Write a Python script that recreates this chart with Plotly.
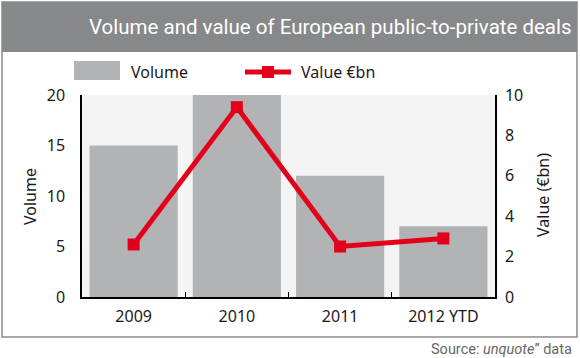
import plotly.graph_objects as go

categories = ["2009", "2010", "2011", "2012 YTD"]
volume = [15, 20, 12, 7]
value_bn = [2.6, 9.4, 2.5, 2.9]

W, H = 580, 358
L, R, T, B = 82, 85, 95, 61
PW, PH = W - L - R, H - T - B

def px(x):
    return (x - L) / PW

def py(y):
    return (H - B - y) / PH

fig = go.Figure()
fig.add_trace(go.Bar(x=categories, y=volume, name="Volume", marker_color="#b2b3b5",
                     marker_line_width=0, yaxis="y", showlegend=False))
fig.add_trace(go.Scatter(x=categories, y=value_bn, name="Value €bn", mode="lines+markers",
                         line=dict(color="#e2001a", width=5),
                         marker=dict(symbol="square", size=12, color="#e2001a"),
                         yaxis="y2", showlegend=False))

tickfont = dict(family="Noto Sans, Open Sans, sans-serif", size=16, color="#1a1a1a")
condensed = "Roboto, sans-serif"

fig.update_layout(
    width=W, height=H,
    margin=dict(l=L, r=R, t=T, b=B),
    paper_bgcolor="white",
    plot_bgcolor="#f4f4f4",
    bargap=0.146,
    xaxis=dict(type="category", showline=True, linecolor="black", linewidth=1.5,
               ticks="inside", tickson="boundaries", ticklen=5, tickcolor="black",
               tickfont=tickfont, showgrid=False, ticklabelstandoff=4),
    yaxis=dict(range=[0, 20], tickvals=[0, 5, 10, 15, 20], showline=True, linecolor="black",
               linewidth=1.5, showgrid=False, zeroline=False, ticks="", tickfont=tickfont,
               ticklabelstandoff=12),
    yaxis2=dict(range=[0, 10], tickvals=[0, 2, 4, 6, 8, 10], overlaying="y", side="right",
                showline=True, linecolor="black", linewidth=1.5, showgrid=False,
                zeroline=False, ticks="", tickfont=tickfont, ticklabelstandoff=5),
    showlegend=False,
)

shapes = [
    dict(type="rect", xref="paper", yref="paper", x0=px(2), x1=px(577), y0=py(337), y1=py(2),
         line=dict(color="#8c8c8c", width=1.5), fillcolor="rgba(0,0,0,0)", layer="below"),
    dict(type="rect", xref="paper", yref="paper", x0=px(2), x1=px(577), y0=py(52), y1=py(2),
         line=dict(width=0), fillcolor="#87888a", layer="below"),
    dict(type="rect", xref="paper", yref="paper", x0=px(74), x1=px(120), y0=py(80), y1=py(61),
         line=dict(width=0), fillcolor="#b2b3b5"),
    dict(type="line", xref="paper", yref="paper", x0=px(245), x1=px(291), y0=py(72), y1=py(72),
         line=dict(color="#e2001a", width=5)),
    dict(type="rect", xref="paper", yref="paper", x0=px(262), x1=px(274), y0=py(78), y1=py(66),
         line=dict(width=0), fillcolor="#e2001a"),
]

annotations = [
    dict(text="Volume and value of European public-to-private deals", xref="paper", yref="paper",
         x=px(574), y=py(27), xanchor="right", yanchor="middle", showarrow=False,
         font=dict(family=condensed, size=20.5, color="white")),
    dict(text="Volume", xref="paper", yref="paper", x=px(129), y=py(72), xanchor="left",
         yanchor="middle", showarrow=False, font=tickfont),
    dict(text="Value €bn", xref="paper", yref="paper", x=px(299), y=py(72), xanchor="left",
         yanchor="middle", showarrow=False, font=tickfont),
    dict(text="Volume", xref="paper", yref="paper", x=px(30), y=py(196), xanchor="center",
         yanchor="middle", textangle=-90, showarrow=False, font=tickfont),
    dict(text="Value (€bn)", xref="paper", yref="paper", x=px(543), y=py(195), xanchor="center",
         yanchor="middle", textangle=-90, showarrow=False, font=tickfont),
    dict(text="Source: <i>unquote</i>” data", xref="paper", yref="paper", x=px(574), y=py(349),
         xanchor="right", yanchor="middle", showarrow=False,
         font=dict(family=condensed, size=14.5, color="#666666")),
]

fig.update_layout(shapes=shapes, annotations=annotations)
fig.write_html("out.html", config={"displayModeBar": False},
               post_script="document.body.style.margin='0';document.body.style.overflow='hidden';")
